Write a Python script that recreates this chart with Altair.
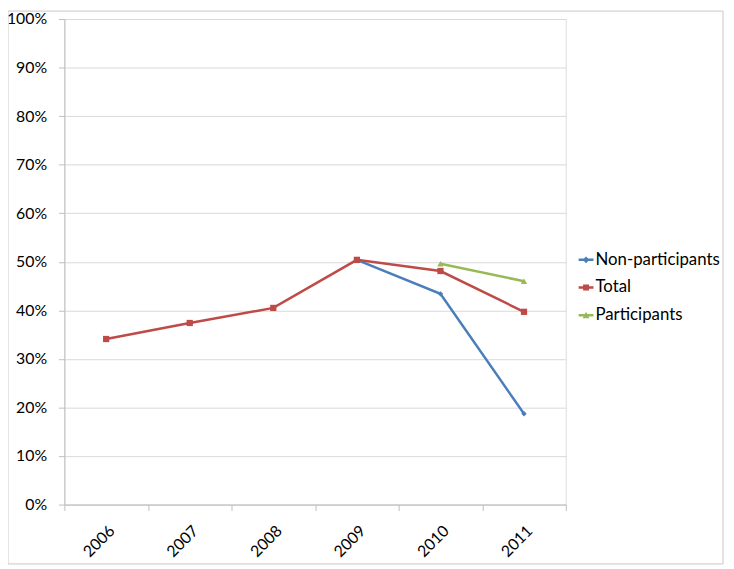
import altair as alt
import pandas as pd

years = ["2006", "2007", "2008", "2009", "2010", "2011"]
series_names = ["Non-participants", "Total", "Participants"]
non_participants = [None, None, None, 0.504, 0.434, 0.187]
total = [0.341, 0.374, 0.405, 0.504, 0.481, 0.397]
participants = [None, None, None, None, 0.496, 0.460]

colors = ["#4a7ebb", "#be4b48", "#98b954"]
shapes = ["diamond", "square", "triangle-up"]
# legend symbols: short line with the series marker
legend_paths = [
    "M-1,-0.17L1,-0.17L1,0.17L-1,0.17Z M0,-0.45L0.45,0L0,0.45L-0.45,0Z",
    "M-1,-0.17L1,-0.17L1,0.17L-1,0.17Z M-0.4,-0.4L0.4,-0.4L0.4,0.4L-0.4,0.4Z",
    "M-1,-0.17L1,-0.17L1,0.17L-1,0.17Z M0,-0.45L0.45,0.4L-0.45,0.4Z",
]

rows = []
for name, vals in zip(series_names, [non_participants, total, participants]):
    for y, v in zip(years, vals):
        if v is not None:
            rows.append({"year": y, "series": name, "label": name, "value": v})
df = pd.DataFrame(rows)

FONT = "Lato"

x_enc = alt.X(
    "year:O",
    bandPosition=0.5,
    scale=alt.Scale(type="band", domain=years, paddingInner=0, paddingOuter=0),
    axis=alt.Axis(
        title=None, labelAngle=-45, labelFontSize=16, labelFont=FONT, labelColor="#000000",
        tickBand="extent", tickSize=6, tickColor="#bfbfbf", domainColor="#bfbfbf",
        grid=False, labelPadding=12,
    ),
)
y_enc = alt.Y(
    "value:Q",
    scale=alt.Scale(domain=[0, 1], nice=False),
    axis=alt.Axis(
        title=None, format=".0%", values=[i / 10 for i in range(11)],
        labelFontSize=16, labelFont=FONT, labelColor="#000000",
        tickSize=6, tickColor="#bfbfbf", domainColor="#bfbfbf",
        gridColor="#d9d9d9", labelPadding=12,
    ),
)
color_noleg = alt.Color("series:N", scale=alt.Scale(domain=series_names, range=colors), legend=None)

lines = alt.Chart(df).mark_line(strokeWidth=2.5).encode(
    x=x_enc, y=y_enc, color=color_noleg, detail="series:N"
)

point_layers = []
for name, shp, sz in zip(series_names, shapes, [30, 40, 40]):
    point_layers.append(
        alt.Chart(df).transform_filter(alt.datum.series == name)
        .mark_point(filled=True, size=sz, opacity=1, shape=shp)
        .encode(x=x_enc, y=y_enc, color=color_noleg)
    )

# legend-only layer: no marks drawn (empty after filter), legend built from explicit domain
legend_layer = alt.Chart(df).transform_filter("false").mark_point(filled=True, opacity=1).encode(
    x=x_enc, y=y_enc,
    color=alt.Color(
        "label:N", scale=alt.Scale(domain=series_names, range=colors),
        legend=alt.Legend(
            title=None, orient="none", legendX=519, legendY=235,
            symbolSize=225, symbolOpacity=1, symbolStrokeWidth=0,
            labelFontSize=17, labelFont=FONT, labelColor="#000000",
            rowPadding=10, labelOffset=1,
        ),
    ),
    shape=alt.Shape("label:N", scale=alt.Scale(domain=series_names, range=legend_paths)),
)

border = alt.Chart(pd.DataFrame({"a": [0]})).mark_rect(
    fill=None, stroke="#c8c8c8", strokeWidth=1
).encode(
    x=alt.value(-57), x2=alt.value(666), y=alt.value(-8), y2=alt.value(551)
)

chart = alt.layer(border, lines, *point_layers, legend_layer).resolve_scale(
    color="independent", shape="independent"
).properties(
    width=507, height=491,
    autosize=alt.AutoSizeParams(type="none"),
    padding={"left": 57, "top": 8, "right": 162, "bottom": 62},
).configure_view(stroke=None).configure(background="white")

chart.save("out.html", embed_options={"renderer": "svg", "actions": False})
